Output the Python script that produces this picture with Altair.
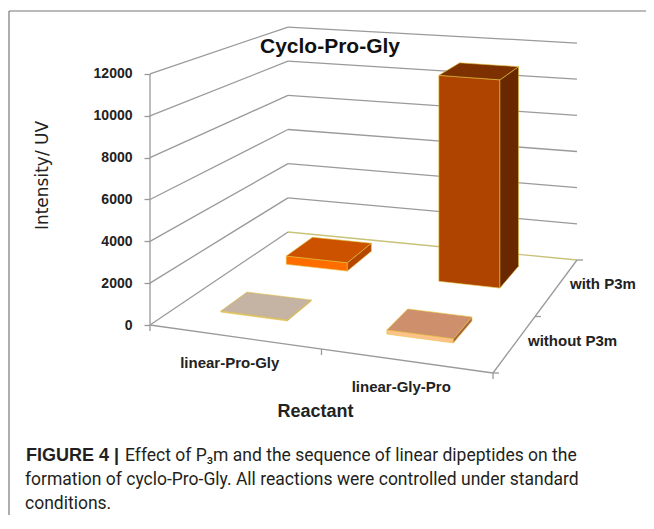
import altair as alt
import pandas as pd

# ---------------- data ----------------
reactants = ["linear-Pro-Gly", "linear-Gly-Pro"]
conditions = ["without P3m", "with P3m"]          # front row, back row
intensity_without = [50, 200]
intensity_with = [450, 10900]
y_ticks = [0, 2000, 4000, 6000, 8000, 10000, 12000]

chart_title = "Cyclo-Pro-Gly"
y_title = "Intensity/ UV"
x_title = "Reactant"
caption_bold = "FIGURE 4 |"
caption_lines = [
    "Effect of P\u2083m and the sequence of linear dipeptides on the",
    "formation of cyclo-Pro-Gly. All reactions were controlled under standard",
    "conditions.",
]

# ---------------- 3D projection (layout geometry) ----------------
PAGE = 8
PAD_LEFT = 142
W, H = 496, 507
FLOOR_X = {"FL": 150, "FR": 493, "BL": 288, "BR": 577}
FLOOR_Y = {"FL": 325, "FR": 373, "BL": 232, "BR": 260}
VSCALE = {"FL": 0.02092, "FR": 0.0221, "BL": 0.01708, "BR": 0.01808}
BAR_W, BAR_SHIFT_X = 0.2, -0.02
BAR_D, BAR_SHIFT_Z = 0.2, 0.05


def bil(c, X, Z):
    return ((1 - X) * (1 - Z) * c["FL"] + X * (1 - Z) * c["FR"]
            + (1 - X) * Z * c["BL"] + X * Z * c["BR"])


def proj(X, Z, V):
    return bil(FLOOR_X, X, Z), bil(FLOOR_Y, X, Z) - bil(VSCALE, X, Z) * V


def to_y(py):
    # screen pixel -> value units on the front-left (axis) edge
    return (FLOOR_Y["FL"] - py) / VSCALE["FL"]


x_left = PAGE + PAD_LEFT
xscale = alt.Scale(domain=[x_left, x_left + W], nice=False, zero=False)
yscale = alt.Scale(domain=[to_y(PAGE + H), to_y(PAGE)], nice=False, zero=False)

Y_AXIS = alt.Axis(
    values=y_ticks, format="d", domain=False, grid=False,
    ticks=True, tickSize=6, tickColor="#999999", tickWidth=1.3,
    labelFont="Liberation Sans", labelFontSize=14, labelFontWeight="bold",
    labelColor="#222222", labelPadding=12,
    title=y_title, titleFont="DejaVu Sans", titleFontSize=17,
    titleFontWeight="normal", titleColor="#222222",
    titleX=-103, titleY=167, titleAngle=270, titleAlign="center",
    titleBaseline="alphabetic",
)

# ---------------- bar faces ----------------
FACE_COLORS = {
    "with P3m|linear-Pro-Gly|front": "#FF6C00",
    "with P3m|linear-Pro-Gly|top": "#CC5200",
    "with P3m|linear-Pro-Gly|side": "#B54700",
    "with P3m|linear-Gly-Pro|front": "#AE4400",
    "with P3m|linear-Gly-Pro|top": "#7E3100",
    "with P3m|linear-Gly-Pro|side": "#6A2800",
    "without P3m|linear-Pro-Gly|front": "#D8C6B6",
    "without P3m|linear-Pro-Gly|top": "#C5B3A4",
    "without P3m|linear-Pro-Gly|side": "#A99787",
    "without P3m|linear-Gly-Pro|front": "#FFC18C",
    "without P3m|linear-Gly-Pro|top": "#CD8F6C",
    "without P3m|linear-Gly-Pro|side": "#A8653F",
}


def poly_rows(pts, pid, key):
    xs = sorted(set(round(p[0], 4) for p in pts))
    rows = []
    n = len(pts)
    for x in xs:
        ys = []
        for k in range(n):
            (xa, ya), (xb, yb) = pts[k], pts[(k + 1) % n]
            if abs(xa - x) < 1e-3:
                ys.append(ya)
            if (xa - x) * (xb - x) < 0:
                t = (x - xa) / (xb - xa)
                ys.append(ya + t * (yb - ya))
        rows.append(dict(pid=pid, key=key, px=x, top=to_y(min(ys)), bot=to_y(max(ys))))
    return rows


rows = []
order = 0
for ci in [1, 0]:  # back row first
    cond = conditions[ci]
    vals = intensity_with if ci == 1 else intensity_without
    for ri, reac in enumerate(reactants):
        v = vals[ri]
        xc = (ri + 0.5) / len(reactants) + BAR_SHIFT_X
        zc = (ci + 0.5) / len(conditions) + BAR_SHIFT_Z
        x0, x1 = xc - BAR_W / 2, xc + BAR_W / 2
        z0, z1 = zc - BAR_D / 2, zc + BAR_D / 2
        faces = {
            "front": [(x0, z0, 0), (x1, z0, 0), (x1, z0, v), (x0, z0, v)],
            "side": [(x1, z0, 0), (x1, z1, 0), (x1, z1, v), (x1, z0, v)],
            "top": [(x0, z0, v), (x1, z0, v), (x1, z1, v), (x0, z1, v)],
        }
        for fname, corners in faces.items():
            pts = [proj(*c) for c in corners]
            rows += poly_rows(pts, f"{order:02d}-{fname}", f"{cond}|{reac}|{fname}")
        order += 1
faces_df = pd.DataFrame(rows)

# ---------------- walls, floor, gridlines ----------------
segs = []


def seg(a, b, kind="grid"):
    (xa, ya), (xb, yb) = a, b
    segs.append(dict(x=xa, y=to_y(ya), x2=xb, y2=to_y(yb), kind=kind))


for v in y_ticks:
    seg(proj(0, 0, v), proj(0, 1, v))
    seg(proj(0, 1, v), proj(1, 1, v), "floorback" if v == 0 else "grid")
seg(proj(0, 0, 0), proj(0, 0, y_ticks[-1]))   # value axis edge
seg(proj(0, 0, 0), proj(1, 0, 0))             # floor front edge
seg(proj(1, 0, 0), proj(1, 1, 0))             # floor right edge
for X in [0, 0.5, 1]:
    px, py = proj(X, 0, 0)
    seg((px, py), (px, py + 6))
for Z in [0, 0.5, 1]:
    px, py = proj(1, Z, 0)
    seg((px, py), (px + 6, py))
segs_df = pd.DataFrame(segs)

# ---------------- category labels ----------------
lab_rows = []
for ri, reac in enumerate(reactants):
    px, py = proj((ri + 0.5) / len(reactants), 0, 0)
    lab_rows.append(dict(label=reac, px=px - 6, vy=to_y(py + 26)))
reac_df = pd.DataFrame(lab_rows)

cond_rows = []
for ci, cond in enumerate(conditions):
    px, py = proj(1, (ci + 0.5) / len(conditions), 0)
    cond_rows.append(dict(label=cond, px=px + 14, vy=to_y(py - 4)))
cond_df = pd.DataFrame(cond_rows)

mx, my = proj(0.5, 0, 0)
xtitle_df = pd.DataFrame([dict(label=x_title, px=mx - 6, vy=to_y(my + 63))])

# ---------------- layers ----------------
grid_layer = alt.Chart(segs_df).mark_rule(strokeWidth=1.3).encode(
    x=alt.X("x:Q", scale=xscale, axis=None),
    x2="x2:Q",
    y=alt.Y("y:Q", scale=yscale, axis=Y_AXIS),
    y2="y2:Q",
    stroke=alt.Stroke("kind:N", scale=alt.Scale(domain=["grid", "floorback"],
                                                range=["#9a9a9a", "#c8c27a"]), legend=None),
)

face_layer = alt.Chart(faces_df).mark_area(
    stroke="#E2C23A", strokeWidth=0.7, strokeOpacity=0.85, opacity=1
).encode(
    x=alt.X("px:Q", scale=xscale, axis=None),
    y=alt.Y("top:Q", scale=yscale, axis=Y_AXIS),
    y2="bot:Q",
    detail="pid:N",
    fill=alt.Fill("key:N", scale=alt.Scale(domain=list(FACE_COLORS.keys()),
                                           range=list(FACE_COLORS.values())), legend=None),
)


def label_layer(df, size, align):
    return alt.Chart(df).mark_text(
        font="Liberation Sans", fontSize=size, fontWeight="bold", color="#222222",
        align=align, baseline="middle"
    ).encode(x=alt.X("px:Q", scale=xscale, axis=None),
             y=alt.Y("vy:Q", scale=yscale, axis=Y_AXIS), text="label:N")


reac_layer = label_layer(reac_df, 15, "center")
cond_layer = label_layer(cond_df, 15, "left")
xtitle_layer = label_layer(xtitle_df, 18, "center")

title_layer = alt.Chart(pd.DataFrame({"t": [chart_title]})).mark_text(
    font="Liberation Sans", fontSize=21, fontWeight="bold", color="#111111",
    align="center", baseline="alphabetic"
).encode(x=alt.value(330 - x_left), y=alt.value(53 - PAGE), text="t:N")

# figure frame
frame_top = alt.Chart(pd.DataFrame({"k": [0]})).mark_rule(color="#777777", strokeWidth=1.2).encode(
    x=alt.value(9 - x_left), x2=alt.value(W), y=alt.value(11 - PAGE))
frame_left = alt.Chart(pd.DataFrame({"k": [0]})).mark_rule(color="#777777", strokeWidth=1.2).encode(
    x=alt.value(9 - x_left), y=alt.value(11 - PAGE), y2=alt.value(H))

cap_bold = alt.Chart(pd.DataFrame({"t": [caption_bold]})).mark_text(
    font="Liberation Sans", fontSize=18, fontWeight="bold", color="#231f20",
    align="left", baseline="alphabetic"
).encode(x=alt.value(26 - x_left), y=alt.value(461 - PAGE), text="t:N")

cap_df = pd.DataFrame({
    "t": caption_lines,
    "xp": [125 - x_left, 25 - x_left, 25 - x_left],
    "yp": [461 - PAGE, 485 - PAGE, 509 - PAGE],
})
cap_layers = [
    alt.Chart(cap_df.iloc[[i]]).mark_text(
        font="Roboto", fontSize=17.5, fontWeight="normal", color="#231f20",
        align="left", baseline="alphabetic"
    ).encode(x=alt.value(float(cap_df.xp[i])), y=alt.value(float(cap_df.yp[i])), text="t:N")
    for i in range(len(cap_df))
]

chart = alt.layer(
    grid_layer, face_layer, reac_layer, cond_layer, xtitle_layer,
    title_layer, frame_top, frame_left, cap_bold, *cap_layers
).properties(
    width=W, height=H,
    padding={"left": PAD_LEFT, "top": 0, "right": 0, "bottom": 0},
    autosize=alt.AutoSizeParams(type="none"),
    background="white",
).configure_view(stroke=None)

chart.save("out.html", embed_options={"renderer": "svg", "actions": False})
